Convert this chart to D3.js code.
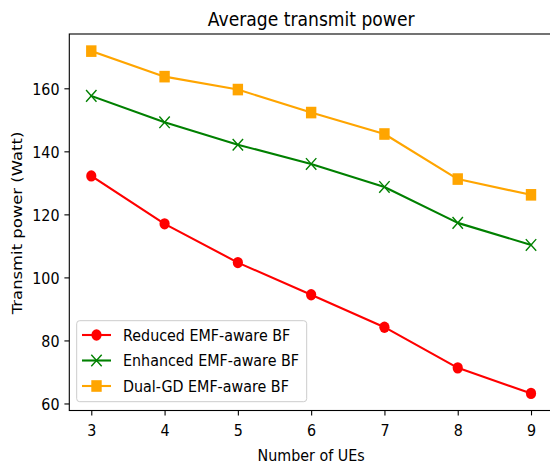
<!DOCTYPE html>
<html>
<head>
<meta charset="utf-8">
<script src="https://cdn.jsdelivr.net/npm/d3@7"></script>
<style>
  html, body { margin: 0; padding: 0; background: #fff; }
  svg { display: block; font-family: "DejaVu Sans", sans-serif; }
</style>
</head>
<body>
<svg id="chart" width="550" height="466"></svg>
<script>
const numUEs = [3, 4, 5, 6, 7, 8, 9];
const reducedBF = [132.2, 117.0, 104.7, 94.5, 84.2, 71.3, 63.2];
const enhancedBF = [157.6, 149.2, 142.1, 136.0, 128.7, 117.3, 110.3];
const dualGDBF = [171.8, 163.7, 159.6, 152.3, 145.5, 131.2, 126.2];
const seriesNames = ["Reduced EMF-aware BF", "Enhanced EMF-aware BF", "Dual-GD EMF-aware BF"];
const xTicks = [3, 4, 5, 6, 7, 8, 9];
const yTicks = [60, 80, 100, 120, 140, 160];

(function () {
const series = [
  { name: seriesNames[0], values: reducedBF, color: "#ff0000", marker: "circle" },
  { name: seriesNames[1], values: enhancedBF, color: "#008000", marker: "x" },
  { name: seriesNames[2], values: dualGDBF, color: "#ffa500", marker: "square" }
];

const svg = d3.select("#chart");
const mLeft = 69.3, mRight = 553, mTop = 34, mBottom = 410.5;
const fs = 14.3;
const sy = 1.15; // vertical stretch of the reference image

const allY = [].concat(reducedBF, enhancedBF, dualGDBF);
const yMin = d3.min(allY), yMax = d3.max(allY), ySpan = yMax - yMin;
const xMin = d3.min(numUEs), xMax = d3.max(numUEs), xSpan = xMax - xMin;

const x = d3.scaleLinear().domain([xMin - 0.05 * xSpan, xMax + 0.05 * xSpan]).range([mLeft, mRight]);
const y = d3.scaleLinear().domain([yMin - 0.05 * ySpan, yMax + 0.05 * ySpan]).range([mBottom, mTop]);

// axes
const xAxis = svg.append("g").attr("transform", `translate(0,${mBottom})`)
  .call(d3.axisBottom(x).tickValues(xTicks).tickFormat(d3.format("d")).tickSize(4.9).tickPadding(4.9));
const yAxis = svg.append("g").attr("transform", `translate(${mLeft},0)`)
  .call(d3.axisLeft(y).tickValues(yTicks).tickFormat(d3.format("d")).tickSize(4.9).tickPadding(4.9));
[xAxis, yAxis].forEach(g => {
  g.select(".domain").remove();
  g.selectAll(".tick line").attr("stroke", "#000").attr("stroke-width", 1.1);
  g.selectAll(".tick text").attr("fill", "#000").style("font-size", fs + "px")
    .style("font-family", "DejaVu Sans, sans-serif");
});
xAxis.selectAll(".tick text").attr("y", 0).attr("dy", 0)
  .attr("transform", `translate(0,25.5) scale(1,${sy})`);
yAxis.selectAll(".tick text").attr("x", 0).attr("dy", 0).attr("text-anchor", "end")
  .attr("transform", `translate(-9.8,6.2) scale(1,${sy})`);

// frame
svg.append("rect").attr("x", mLeft).attr("y", mTop).attr("width", mRight - mLeft).attr("height", mBottom - mTop)
  .attr("fill", "none").attr("stroke", "#000").attr("stroke-width", 1.1);

const plot = svg.append("g");

function drawMarker(g, type, cx, cy, color) {
  if (type === "circle") {
    g.append("ellipse").attr("cx", cx).attr("cy", cy).attr("rx", 5.1).attr("ry", 5.7).attr("fill", color);
  } else if (type === "square") {
    g.append("rect").attr("x", cx - 5.2).attr("y", cy - 5.8).attr("width", 10.4).attr("height", 11.6).attr("fill", color);
  } else {
    const s = 5.2, t = 5.8;
    g.append("path").attr("d", `M${cx - s},${cy - t}L${cx + s},${cy + t}M${cx - s},${cy + t}L${cx + s},${cy - t}`)
      .attr("stroke", color).attr("stroke-width", 1.4).attr("fill", "none");
  }
}

const line = d3.line().x((d, i) => x(numUEs[i])).y(d => y(d));
series.forEach(s => {
  plot.append("path").datum(s.values).attr("d", line).attr("fill", "none")
    .attr("stroke", s.color).attr("stroke-width", 2.1).attr("stroke-linejoin", "round").attr("stroke-linecap", "square");
  s.values.forEach((v, i) => drawMarker(plot, s.marker, x(numUEs[i]), y(v), s.color));
});

// title and labels
svg.append("text").attr("text-anchor", "middle")
  .attr("transform", `translate(${(mLeft + mRight) / 2},25.6) scale(1,${sy})`)
  .style("font-size", (fs * 1.2) + "px").text("Average transmit power");
svg.append("text").attr("text-anchor", "middle")
  .attr("transform", `translate(${(mLeft + mRight) / 2},461) scale(1,${sy})`)
  .style("font-size", fs + "px").text("Number of UEs");
svg.append("text").attr("text-anchor", "middle")
  .attr("transform", `translate(22,223) rotate(-90) scale(${sy},1)`)
  .style("font-size", fs + "px").text("Transmit power (Watt)");

// legend
const lg = svg.append("g");
lg.append("rect").attr("x", 76.7).attr("y", 320.7).attr("width", 230).attr("height", 81).attr("rx", 3)
  .attr("fill", "#fff").attr("fill-opacity", 0.8).attr("stroke", "#cccccc").attr("stroke-width", 1);
series.forEach((s, i) => {
  const cy = 335 + i * 25.5;
  lg.append("line").attr("x1", 82).attr("x2", 111).attr("y1", cy).attr("y2", cy)
    .attr("stroke", s.color).attr("stroke-width", 2.1);
  drawMarker(lg, s.marker, 96.5, cy, s.color);
  lg.append("text").attr("transform", `translate(123,${cy + 5.9}) scale(1,${sy})`)
    .style("font-size", fs + "px").text(s.name);
});
})();
</script>
</body>
</html>
